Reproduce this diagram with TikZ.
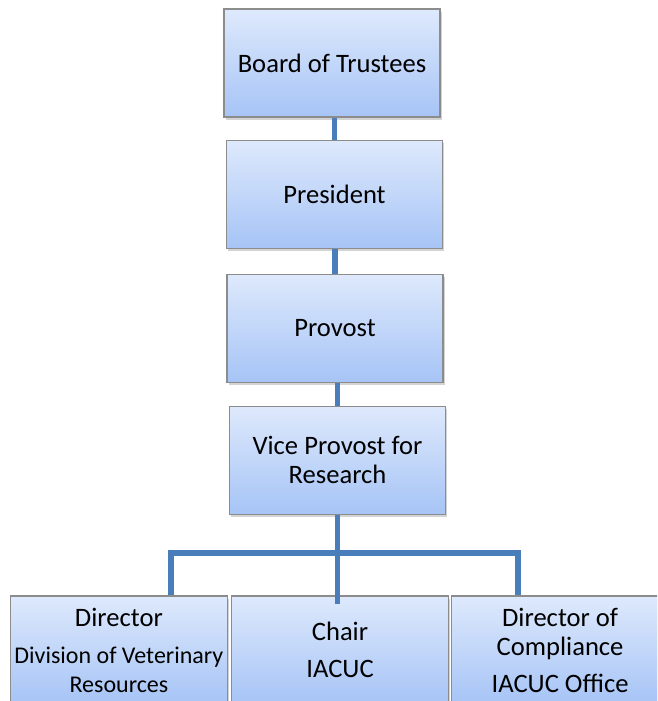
\documentclass[tikz,border=0pt]{standalone}
\usepackage{fontspec}
\setmainfont{Carlito}
\usepackage{xcolor}
\usepackage{tikz}
\usetikzlibrary{positioning, shadows}

\definecolor{boxtop}{RGB}{222,233,252}
\definecolor{boxbottom}{RGB}{166,196,246}
\definecolor{boxline}{RGB}{140,140,140}
\definecolor{linkblue}{RGB}{74,126,187}
\newcommand{\boxfont}{\fontsize{26.6}{29}\selectfont}
\newcommand{\dvrfont}{\fontsize{24}{26}\selectfont}

\begin{document}
\begin{tikzpicture}[
    x=1pt, y=-1pt,
    box/.style={
      draw=boxline, line width=1.1pt,
      top color=boxtop, bottom color=boxbottom,
      drop shadow={opacity=0.35, shadow xshift=1.5pt, shadow yshift=-3pt},
      minimum width=216pt, minimum height=108pt,
      inner sep=2pt, align=center, font=\boxfont
    },
    link/.style={draw=linkblue, line width=5.5pt},
  ]
  \path[use as bounding box, clip] (0,0) rectangle (657,701);

  % Start chart itself
  \node[box] (board) at (332,63) {Board of Trustees};
  \node[box, below=22pt of board, xshift=2.5pt] (president) {President};
  \node[box, below=25pt of president, xshift=0.5pt] (provost) {Provost};
  \node[box, below=23pt of provost, xshift=2.5pt] (vp) {Vice Provost for\\Research};

  \node[box, minimum width=217pt] (chair) at (340,650) {Chair\\[8pt]IACUC};
  \node[box, minimum width=217pt, left=3pt of chair] (dvr)
    {Director\\[8pt]\dvrfont Division of Veterinary\\\dvrfont Resources};
  \node[box, minimum width=217pt, right=2pt of chair] (comp)
    {Director of\\Compliance\\[8pt]IACUC Office};

  \coordinate (barL) at (171,553);
  \coordinate (barR) at (518,553);

  \draw[link] (president.north) -- (president.north |- board.south);
  \draw[link] (provost.north) -- (provost.north |- president.south);
  \draw[link] (vp.north) -- (vp.north |- provost.south);
  \draw[link] (vp.south) -- ([yshift=-9pt]vp.south |- chair.north);
  \draw[link] (barL |- dvr.north) -- (barL) -- (barR) -- (barR |- comp.north);

\end{tikzpicture}
\end{document}
